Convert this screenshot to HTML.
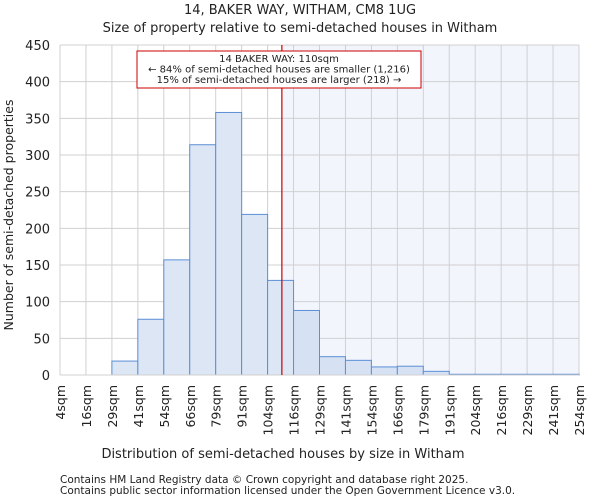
<!DOCTYPE html>
<html><head><meta charset="utf-8"><style>
body{margin:0;background:#fff;font-family:"DejaVu Sans","Liberation Sans",sans-serif}
svg text{font-family:"DejaVu Sans","Liberation Sans",sans-serif;fill:#222}
</style></head><body>
<svg id="c" width="600" height="500">
<text x="300" y="14" text-anchor="middle" font-size="13">14, BAKER WAY, WITHAM, CM8 1UG</text>
<text x="300" y="32" text-anchor="middle" font-size="13">Size of property relative to semi-detached houses in Witham</text>
<g id="grid"></g><g id="bars"></g><g id="axes"></g>
<text x="283" y="458" text-anchor="middle" font-size="13">Distribution of semi-detached houses by size in Witham</text>
<text transform="translate(13,215) rotate(-90)" text-anchor="middle" font-size="12.5">Number of semi-detached properties</text>
<text x="60" y="483" font-size="10.5">Contains HM Land Registry data © Crown copyright and database right 2025.</text>
<text x="60" y="494" font-size="10.5">Contains public sector information licensed under the Open Government Licence v3.0.</text>
</svg>
<script>
const tickLabels=["4sqm","16sqm","29sqm","41sqm","54sqm","66sqm","79sqm","91sqm","104sqm","116sqm","129sqm","141sqm","154sqm","166sqm","179sqm","191sqm","204sqm","216sqm","229sqm","241sqm","254sqm"];
const counts=[0,0,19,76,157,314,358,219,129,88,25,20,11,12,5,1,1,1,1,1];
const yTicks=[0,50,100,150,200,250,300,350,400,450];
const subjectIndex=8.55;
const NS="http://www.w3.org/2000/svg";
const X0=60,X1=579,Y0=375,Y1=45,YMAX=450;
const bw=(X1-X0)/counts.length;
const xs=i=>X0+i*bw, ys=v=>Y0-(v/YMAX)*(Y0-Y1);
function mk(t,a,p){const e=document.createElementNS(NS,t);for(const k in a)e.setAttribute(k,a[k]);p.appendChild(e);return e;}
const grid=document.getElementById('grid'),bars=document.getElementById('bars'),axes=document.getElementById('axes');
const sx=xs(subjectIndex);
const sh=mk('rect',{x:sx,y:Y1,width:X1-sx,height:Y0-Y1,fill:'#f3f5fd'},grid);


yTicks.forEach(v=>{const l=mk('line',{x1:X0,x2:X1,y1:ys(v),y2:ys(v),stroke:'#d0d0d0'},grid);


const t=mk('text',{x:X0-10,y:ys(v)+5,'text-anchor':'end','font-size':13},axes);t.textContent=v;

});
tickLabels.forEach((s,i)=>{const l=mk('line',{x1:xs(i),x2:xs(i),y1:Y1,y2:Y0,stroke:'#d0d0d0'},grid);


const t=mk('text',{transform:`translate(${xs(i)+5},${Y0+10}) rotate(-90)`,'text-anchor':'end','font-size':12.5},axes);t.textContent=s;

});
counts.forEach((v,i)=>{const r=mk('rect',{x:xs(i),y:ys(v),width:bw,height:Y0-ys(v),fill:i>=subjectIndex?'#d6e1f3':'#dde6f4',stroke:'#5b8fd6','stroke-width':1},bars);

});
const ax=mk('line',{x1:X0,x2:X1,y1:Y0,y2:Y0,stroke:'#d0d0d0'},axes);


const rl=mk('line',{x1:sx,x2:sx,y1:Y1,y2:Y0,stroke:'#cc0000','stroke-width':1.2},axes);


const box=mk('rect',{x:137,y:51,width:284,height:37,fill:'#fff',stroke:'#cc0000'},axes);


["14 BAKER WAY: 110sqm","← 84% of semi-detached houses are smaller (1,216)","15% of semi-detached houses are larger (218) →"].forEach((s,i)=>{const t=mk('text',{x:279,y:62+i*10.5,'text-anchor':'middle','font-size':10},axes);t.textContent=s;

});
</script>
</body></html>
